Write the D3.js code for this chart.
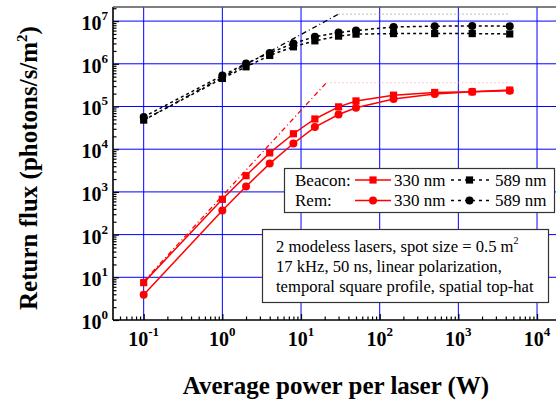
<!DOCTYPE html>
<html><head><meta charset="utf-8">
<script src="https://cdn.jsdelivr.net/npm/d3@7/dist/d3.min.js"></script>
<style>body{margin:0;background:#fff}svg{display:block}</style>
</head><body>
<svg id="c" width="556" height="401"></svg>
<script>
// ---- data ----
const power = [0.1, 1, 2, 4, 8, 15, 30, 50, 150, 500, 1500, 4500];
const beacon330 = [7.5, 670, 2400, 8200, 23000, 51000, 98000, 135000, 184000, 213000, 221000, 242000];
const rem330 = [3.9, 366, 1340, 4600, 13600, 33000, 65000, 93000, 149000, 195000, 221000, 233000];
const beacon589 = [48000, 454000, 850000, 1570000, 2500000, 3450000, 4450000, 4950000, 5100000, 5100000, 5100000, 5000000];
const rem589 = [57000, 530000, 1020000, 1800000, 3000000, 4300000, 5400000, 6000000, 7300000, 7600000, 7700000, 7600000];
const redLimitP = [0.1, 21];
const redLimitF = [8, 360000];
const redSatP = [21, 4500];
const redSatF = [360000, 360000];
const blackLimitP = [0.1, 30];
const blackLimitF = [48000, 14600000];
const blackSatP = [30, 4500];
const blackSatF = [14600000, 14600000];
const xTickExp = [-1, 0, 1, 2, 3, 4];
const yTickExp = [0, 1, 2, 3, 4, 5, 6, 7];
const legendRows = ["Beacon:", "Rem:"];
const legendWl = ["330 nm", "589 nm"];
const noteLines = ["2 modeless lasers, spot size = 0.5 m", "17 kHz, 50 ns, linear polarization,", "temporal square profile, spatial top-hat"];

// ---- layout ----
const L = 113, R = 560, T = 7, B = 320;
const svg = d3.select("#c");
const x = d3.scaleLog().domain([Math.pow(10, -1.39), Math.pow(10, 4.292)]).range([L, R]);
const y = d3.scaleLog().domain([1, Math.pow(10, 7.33)]).range([B, T]);
const serif = "'Liberation Serif','Times New Roman',serif";

svg.append("defs").append("clipPath").attr("id", "clip")
  .append("rect").attr("x", L).attr("y", T).attr("width", R - L).attr("height", B - T);

// grid
const grid = svg.append("g");
grid.selectAll(".gx").data(xTickExp).join("line")
  .attr("x1", d => x(Math.pow(10, d))).attr("x2", d => x(Math.pow(10, d)))
  .attr("y1", T).attr("y2", B).attr("stroke", "#0000ff").attr("stroke-width", 1);
grid.selectAll(".gy").data(yTickExp.filter(e => e > 0)).join("line")
  .attr("y1", d => y(Math.pow(10, d))).attr("y2", d => y(Math.pow(10, d)))
  .attr("x1", L).attr("x2", R).attr("stroke", "#0000ff").attr("stroke-width", 1);

// axes (ticks inward)
const minorX = [], minorY = [];
for (let e = -2; e <= 4; e++) for (let m = 2; m <= 9; m++) { const v = m * Math.pow(10, e); if (v > x.domain()[0] && v < x.domain()[1]) minorX.push(v); }
for (let e = 0; e <= 7; e++) for (let m = 2; m <= 9; m++) { const v = m * Math.pow(10, e); if (v < y.domain()[1]) minorY.push(v); }

const xAxisMajor = d3.axisBottom(x).tickValues(xTickExp.map(e => Math.pow(10, e))).tickSize(-6).tickFormat("");
const xAxisMinor = d3.axisBottom(x).tickValues(minorX).tickSize(-3.5).tickFormat("");
const yAxisMajor = d3.axisLeft(y).tickValues(yTickExp.map(e => Math.pow(10, e))).tickSize(-6).tickFormat("");
const yAxisMinor = d3.axisLeft(y).tickValues(minorY).tickSize(-3.5).tickFormat("");
[xAxisMajor, xAxisMinor].forEach(a => {
  const g = svg.append("g").attr("transform", `translate(0,${B})`).call(a);
  g.select(".domain").remove();
  g.selectAll(".tick line").attr("stroke", "#000").attr("stroke-width", 1.2);
});
[yAxisMajor, yAxisMinor].forEach(a => {
  const g = svg.append("g").attr("transform", `translate(${L},0)`).call(a);
  g.select(".domain").remove();
  g.selectAll(".tick line").attr("stroke", "#000").attr("stroke-width", 1.2);
});
// frame
svg.append("line").attr("x1", L).attr("x2", R).attr("y1", B).attr("y2", B).attr("stroke", "#000").attr("stroke-width", 1.6);
svg.append("line").attr("x1", L).attr("x2", L).attr("y1", T).attr("y2", B).attr("stroke", "#000").attr("stroke-width", 1.6);
svg.append("line").attr("x1", L).attr("x2", R).attr("y1", T).attr("y2", T).attr("stroke", "#555").attr("stroke-width", 1.6);

// tick labels
const xl = svg.append("g").attr("font-family", serif).attr("font-weight", "bold").attr("fill", "#000");
xTickExp.forEach(e => {
  const t = xl.append("text").attr("x", x(Math.pow(10, e))).attr("y", 346).attr("text-anchor", "middle").attr("font-size", 20);
  t.append("tspan").text("10");
  t.append("tspan").attr("font-size", 13).attr("dy", -10).text(e);
});
const yl = svg.append("g").attr("font-family", serif).attr("font-weight", "bold").attr("fill", "#000");
yTickExp.forEach(e => {
  const t = yl.append("text").attr("x", 108).attr("y", y(Math.pow(10, e)) + 9).attr("text-anchor", "end").attr("font-size", 20);
  t.append("tspan").text("10");
  t.append("tspan").attr("font-size", 13).attr("dy", -10).text(e);
});

// titles
svg.append("text").attr("x", 336).attr("y", 394).attr("text-anchor", "middle")
  .attr("font-family", serif).attr("font-weight", "bold").attr("font-size", 25).text("Average power per laser (W)");
const yt = svg.append("text").attr("transform", "translate(37,168) rotate(-90)").attr("text-anchor", "middle")
  .attr("font-family", serif).attr("font-weight", "bold").attr("font-size", 25);
yt.append("tspan").text("Return flux (photons/s/m");
yt.append("tspan").attr("font-size", 15).attr("dy", -10).text("2");
yt.append("tspan").attr("dy", 10).text(")");

// data
const plot = svg.append("g").attr("clip-path", "url(#clip)");
const line = d3.line().x(d => x(d[0])).y(d => y(d[1]));
const zip = (a, b) => a.map((v, i) => [v, b[i]]);

plot.append("path").datum(zip(redSatP, redSatF)).attr("d", line).attr("fill", "none")
  .attr("stroke", "#ff9d9d").attr("stroke-width", 1.2).attr("stroke-dasharray", "1,3");
plot.append("path").datum(zip(blackSatP, blackSatF)).attr("d", line).attr("fill", "none")
  .attr("stroke", "#9a9a9a").attr("stroke-width", 1.2).attr("stroke-dasharray", "1,3");
plot.append("path").datum(zip(redLimitP, redLimitF)).attr("d", line).attr("fill", "none")
  .attr("stroke", "#ff0000").attr("stroke-width", 1.3).attr("stroke-dasharray", "5,3,1,3");
plot.append("path").datum(zip(blackLimitP, blackLimitF)).attr("d", line).attr("fill", "none")
  .attr("stroke", "#000").attr("stroke-width", 1.3).attr("stroke-dasharray", "5,3,1,3");

const series = [
  {v: beacon589, c: "#000", dash: "3,3", m: "square"},
  {v: rem589, c: "#000", dash: "3,3", m: "circle"},
  {v: beacon330, c: "#ff0000", dash: null, m: "square"},
  {v: rem330, c: "#ff0000", dash: null, m: "circle"}
];
function marker(g, m, cx, cy, c) {
  if (m === "square") g.append("rect").attr("x", cx - 3.6).attr("y", cy - 3.6).attr("width", 7.2).attr("height", 7.2).attr("fill", c);
  else g.append("circle").attr("cx", cx).attr("cy", cy).attr("r", 4).attr("fill", c);
}
series.forEach(s => {
  plot.append("path").datum(zip(power, s.v)).attr("d", line).attr("fill", "none")
    .attr("stroke", s.c).attr("stroke-width", 1.5).attr("stroke-dasharray", s.dash);
});
series.forEach(s => {
  const g = plot.append("g");
  power.forEach((p, i) => marker(g, s.m, x(p), y(s.v[i]), s.c));
});

// legend
const lg = svg.append("g").attr("font-family", serif).attr("font-size", 17);
lg.append("rect").attr("x", 284.5).attr("y", 168.5).attr("width", 270).attr("height", 44).attr("fill", "#fff").attr("stroke", "#333").attr("stroke-width", 1.2);
legendRows.forEach((r, i) => {
  const yy = 180 + i * 20.5;
  const m = i === 0 ? "square" : "circle";
  lg.append("text").attr("x", 295).attr("y", yy + 5.5).text(r);
  lg.append("line").attr("x1", 355).attr("x2", 391).attr("y1", yy).attr("y2", yy).attr("stroke", "#ff0000").attr("stroke-width", 1.5);
  marker(lg, m, 373, yy, "#ff0000");
  lg.append("text").attr("x", 394).attr("y", yy + 5.5).text(legendWl[0]);
  lg.append("line").attr("x1", 451).attr("x2", 491).attr("y1", yy).attr("y2", yy).attr("stroke", "#000").attr("stroke-width", 1.5).attr("stroke-dasharray", "3,4");
  marker(lg, m, 469.5, yy, "#000");
  lg.append("text").attr("x", 495).attr("y", yy + 5.5).text(legendWl[1]);
});

// note box
const nb = svg.append("g").attr("font-family", serif).attr("font-size", 16.6);
nb.append("rect").attr("x", 262.5).attr("y", 229.5).attr("width", 286).attr("height", 73).attr("fill", "#fff").attr("stroke", "#333").attr("stroke-width", 1.2);
noteLines.forEach((t, i) => {
  const tx = nb.append("text").attr("x", 276).attr("y", 252 + i * 20);
  tx.append("tspan").text(t);
  if (i === 0) tx.append("tspan").attr("font-size", 10).attr("dy", -8).text("2");
});
</script>
</body></html>
